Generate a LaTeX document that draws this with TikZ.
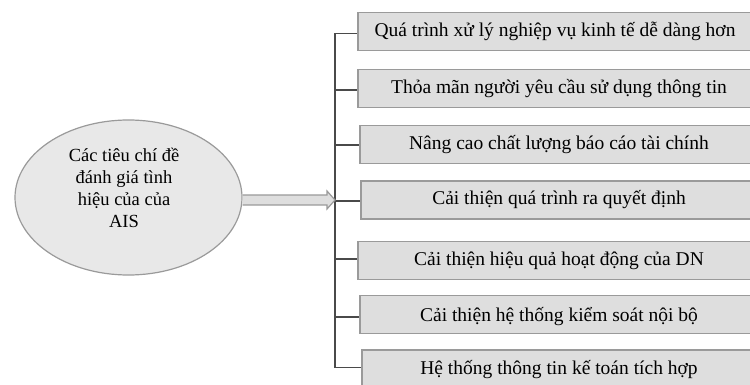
\documentclass[tikz,border=0pt]{standalone}
\usepackage{fontspec}
\setmainfont{Liberation Serif}
\usetikzlibrary{shapes.geometric}
\definecolor{boxfill}{HTML}{DEDEDE}
\definecolor{boxline}{HTML}{9A9A9A}
\definecolor{conn}{HTML}{4A4A4A}
\begin{document}
\begin{tikzpicture}[x=1pt,y=-1pt,
  item/.style={draw=boxline, line width=1.6pt, fill=boxfill, minimum height=38pt,
    minimum width=420pt, anchor=west, inner sep=0pt},
  itemtext/.style={font=\fontsize{19.5}{22}\selectfont, text=black},
  root/.style={draw=boxline, line width=1.2pt, fill=boxfill!70!white, ellipse,
    minimum width=227pt, minimum height=155pt, inner sep=0pt},
  roottext/.style={align=center, font=\fontsize{18.5}{22}\selectfont},
  tick/.style={draw=conn, line width=1.2pt}]
\useasboundingbox (0,0) rectangle (750,385);
\node[root] (r) at (128.5,197.5) {};
\node[roottext] (rt) at (124,188) {Các tiêu chí đề\\đánh giá tình\\hiệu của của\\AIS};
% boxes (extending past the right edge)
\node[item] (b1) at (357,31.5) {};
\node[item] (b2) at (357,88.5) {};
\node[item] (b3) at (359,144.5) {};
\node[item] (b4) at (360,200) {};
\node[item] (b5) at (357,260.5) {};
\node[item] (b6) at (359,314.5) {};
\node[item] (b7) at (361,369) {};
\node[itemtext] (t1) at (555,31.5) {Quá trình xử lý nghiệp vụ kinh tế dễ dàng hơn};
\node[itemtext] (t2) at (559,88.5) {Thỏa mãn người yêu cầu sử dụng thông tin};
\node[itemtext] (t3) at (559,144.5) {Nâng cao chất lượng báo cáo tài chính};
\node[itemtext] (t4) at (559,200) {Cải thiện quá trình ra quyết định};
\node[itemtext] (t5) at (559,260.5) {Cải thiện hiệu quả hoạt động của DN};
\node[itemtext] (t6) at (559,317) {Cải thiện hệ thống kiểm soát nội bộ};
\node[itemtext] (t7) at (559,370) {Hệ thống thông tin kế toán tích hợp};
% trunk
\coordinate (top) at (335,33.5);
\coordinate (bot) at (335,367.5);
\draw[tick] (top) -- (bot);
\draw[tick] (top) -- (b1.west|-top);
\draw[tick] (335,90) -- (b2.west|-{(0,90)});
\draw[tick] (335,145) -- (b3.west|-{(0,145)});
\draw[tick] (335,201) -- (b4.west|-{(0,201)});
\draw[tick] (335,259) -- (b5.west|-{(0,259)});
\draw[tick] (335,317) -- (b6.west|-{(0,317)});
\draw[tick] (bot) -- (b7.west|-bot);
% arrow
\coordinate (tip) at (335,200);
\draw[draw=boxline, fill=boxfill, line width=1.2pt, line join=miter]
  (r.east |- {(0,195)}) -- (327,195) -- (327,191) -- (tip) -- (327,209) -- (327,205) -- (r.east |- {(0,205)});
\end{tikzpicture}
\end{document}
